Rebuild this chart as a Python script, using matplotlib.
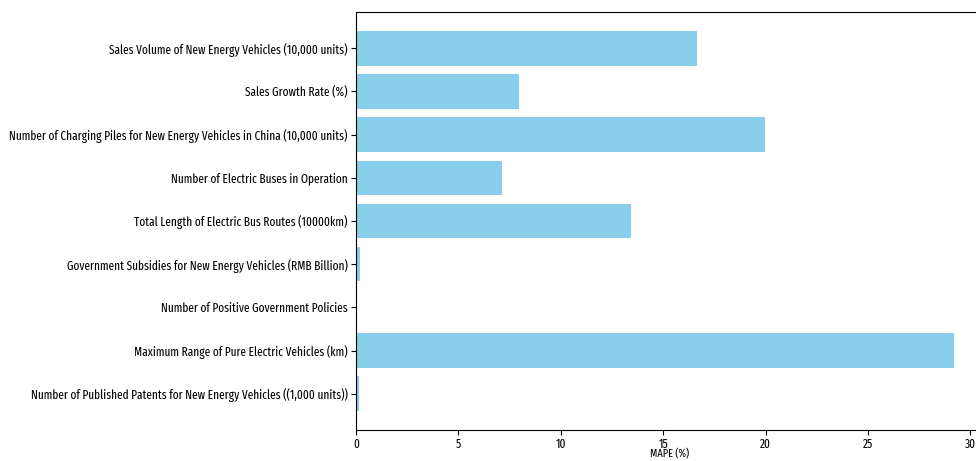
import matplotlib
matplotlib.use("Agg")
import matplotlib.pyplot as plt
import matplotlib.transforms as mtransforms

categories = [
    "Sales Volume of New Energy Vehicles (10,000 units)",
    "Sales Growth Rate (%)",
    "Number of Charging Piles for New Energy Vehicles in China (10,000 units)",
    "Number of Electric Buses in Operation",
    "Total Length of Electric Bus Routes (10000km)",
    "Government Subsidies for New Energy Vehicles (RMB Billion)",
    "Number of Positive Government Policies",
    "Maximum Range of Pure Electric Vehicles (km)",
    "Number of Published Patents for New Energy Vehicles ((1,000 units))",
]
mape = [16.65, 7.95, 19.95, 7.15, 13.45, 0.2, 0.0, 29.2, 0.15]

plt.rcParams["font.family"] = ["Fira Sans Extra Condensed", "DejaVu Sans"]

fig = plt.figure(figsize=(9.76, 4.61), dpi=100)
ax = fig.add_axes([356 / 976, 1 - 430 / 461, (984 - 356) / 976, (430 - 12) / 461])
ax.barh(categories, mape, color="skyblue")
ax.invert_yaxis()
ax.set_xlabel("MAPE (%)", fontsize=8)
ax.tick_params(axis="both", labelsize=8.9, length=3.5, width=0.8, pad=2.5)
ax.tick_params(axis="x", pad=2)
blend = mtransforms.blended_transform_factory(ax.transAxes, fig.transFigure)
ax.xaxis.set_label_coords(0.5, 1.0 / 461, transform=blend)
ax.xaxis.label.set_va("bottom")
for s in ax.spines.values():
    s.set_linewidth(0.8)
fig.savefig("out.png", dpi=100)
